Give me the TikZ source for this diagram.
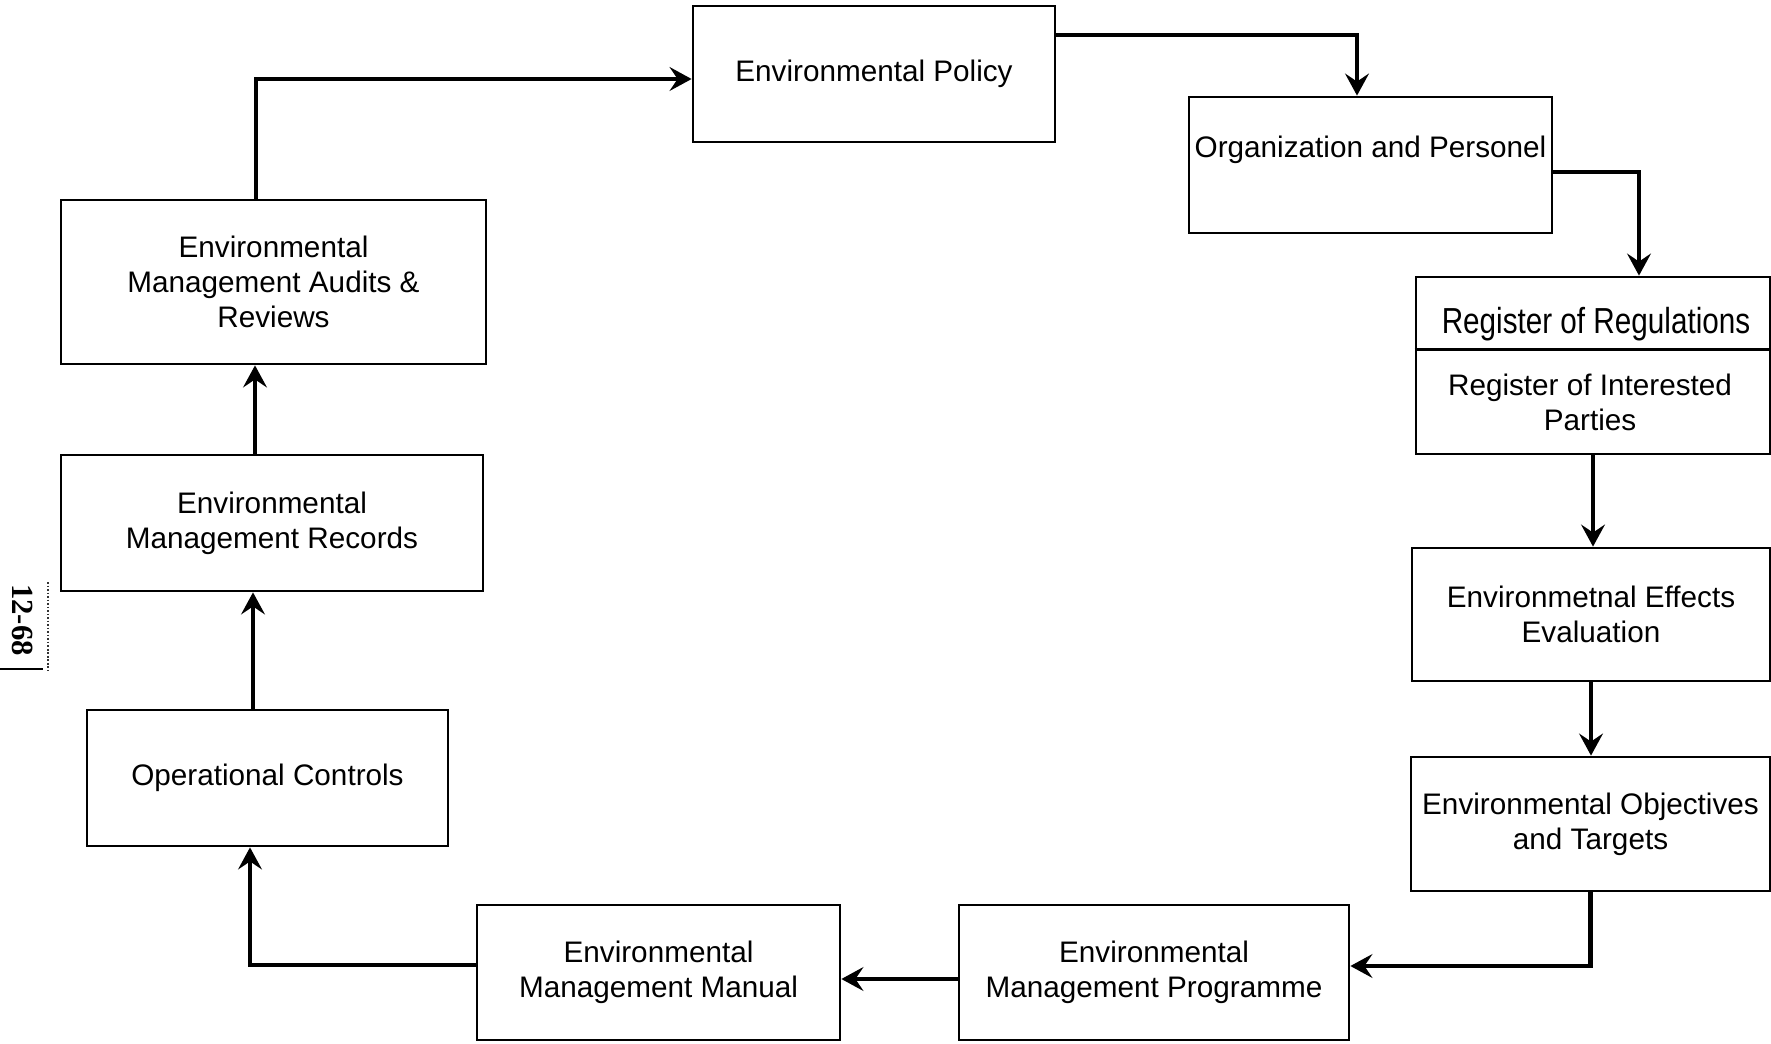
\documentclass[tikz,border=0pt]{standalone}
\usepackage{fontspec}
\setmainfont{Liberation Sans}
\newfontfamily\pagefont{Liberation Serif}
\usepackage{tikz}
\usetikzlibrary{arrows.meta}

\begin{document}
\begin{tikzpicture}[x=0.02cm, y=-0.02cm,
	every node/.style={font=\fontsize{16.9}{19.9}\selectfont, align=center},
	stage/.style={draw, line width=1.6pt, inner sep=0pt, minimum height=2.72cm},
	flow/.style={line width=2.6pt, -{Stealth[length=12.5pt,width=13.5pt,inset=4.5pt]}},
	]
	\useasboundingbox (0,0) rectangle (1771,1044);

	% the cycle of stages, clockwise from the top
	\node[stage, minimum width=7.24cm] (policy) at (874,74) {Environmental Policy};
	\node[stage, minimum width=7.26cm, text height=1.2cm, text depth=1.52cm] (org) at (1370.5,165) {Organization and Personel};
	\node[stage, minimum width=7.08cm, minimum height=3.54cm] (register) at (1593,365.5) {};
	\node (regtop) at (1596,324) {\scalebox{0.82}[1]{\fontsize{20.6}{24}\selectfont Register of Regulations}};
	\node (regbottom) at (1590,402) {Register of Interested\\Parties};
	\node[stage, minimum width=7.16cm, minimum height=2.66cm] (effects) at (1591,614.5) {Environmetnal Effects\\Evaluation};
	\node[stage, minimum width=7.18cm, minimum height=2.68cm] (objectives) at (1590.5,824) {Environmental Objectives\\and Targets};
	\node[stage, minimum width=7.8cm, minimum height=2.7cm] (programme) at (1154,972.5) {Environmental\\Management Programme};
	\node[stage, minimum width=7.26cm, minimum height=2.7cm] (manual) at (658.5,972.5) {Environmental\\Management Manual};
	\node[stage, minimum width=7.22cm] (opctrl) at (267.5,778) {Operational Controls};
	\node[stage, minimum width=8.44cm] (records) at (272,523) {Environmental\\Management Records};
	\node[stage, minimum width=8.5cm, minimum height=3.28cm] (audits) at (273.5,282) {Environmental\\Management Audits \&\\Reviews};

	\draw[line width=1.6pt] ([yshift=-1.48cm]register.north west) -- ([yshift=-1.48cm]register.north east);

	% connectors
	\draw[flow] ([xshift=-0.35cm]audits.north) |- ([yshift=-0.1cm]policy.west);
	\draw[flow] ([yshift=0.78cm]policy.east) -| ([xshift=-0.27cm]org.north);
	\draw[flow] ([yshift=-0.14cm]org.east) -| ([xshift=0.92cm]register.north);
	\draw[flow] (register.south) -- (register.south |- effects.north);
	\draw[flow] (effects.south) -- (effects.south |- objectives.north);
	\draw[flow] (objectives.south) |- ([yshift=0.13cm]programme.east);
	\draw[flow] ([yshift=-0.13cm]programme.west) -- ([yshift=-0.13cm]manual.east);
	\draw[flow] ([yshift=0.15cm]manual.west) -| ([xshift=-0.35cm]opctrl.south);
	\draw[flow] ([xshift=-0.29cm]opctrl.north) -- ([xshift=-0.29cm]opctrl.north |- records.south);
	\draw[flow] ([xshift=-0.34cm]records.north) -- ([xshift=-0.34cm]records.north |- audits.south);

	% page number in the margin
	\node[rotate=-90, font=\pagefont\bfseries\fontsize{17.5}{20}\selectfont] (pageno) at (23,620) {12-68};
	\draw[line width=1.2pt] (0,669) -- (43,669);
	\draw[line width=1pt, densely dotted, black!80] (48,582) -- (48,670);
\end{tikzpicture}
\end{document}
